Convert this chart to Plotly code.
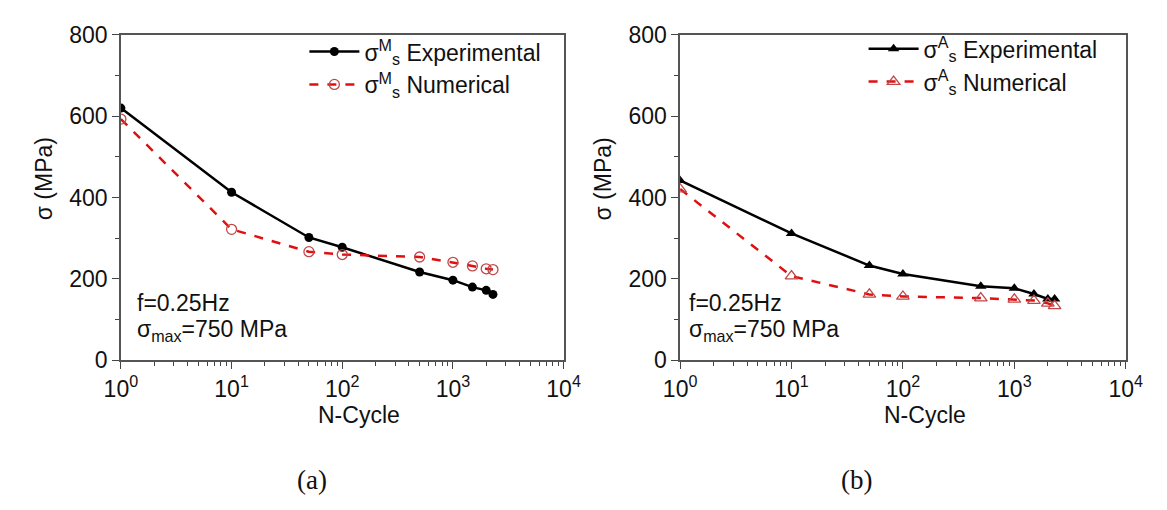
import plotly.graph_objects as go

# ---- data ----
cycles = [1, 10, 50, 100, 500, 1000, 1500, 2000, 2300]
ms_exp = [620, 413, 302, 278, 217, 197, 180, 172, 162]
ms_num = [593, 322, 267, 260, 254, 241, 232, 225, 223]
as_exp = [442, 312, 233, 212, 182, 177, 163, 151, 151]
as_num = [421, 207, 162, 157, 153, 150, 147, 140, 134]

x_tickvals = [1, 10, 100, 1000, 10000]
x_ticktext = ["10<sup>0</sup>", "10<sup>1</sup>", "10<sup>2</sup>", "10<sup>3</sup>", "10<sup>4</sup>"]
y_tickvals = [0, 200, 400, 600, 800]

W, H = 1167, 510
FONT = "Liberation Sans, Arial, sans-serif"
FS = 23
RED = "#e01010"
MRED = "#c04848"

def px_x(p):
    return p / W

def px_y(p):
    return 1 - p / H

fig = go.Figure()

fig.add_trace(go.Scatter(x=cycles, y=ms_exp, mode="lines+markers",
                         name="σ<sup>M</sup><sub>s</sub> Experimental", legendgroup="a1",
                         line=dict(color="black", width=2.5),
                         marker=dict(symbol="circle", size=9, color="black"),
                         xaxis="x", yaxis="y", legend="legend"))
fig.add_trace(go.Scatter(x=cycles, y=ms_num, mode="lines+markers",
                         name="σ<sup>M</sup><sub>s</sub> Numerical", legendgroup="a2",
                         line=dict(color=RED, width=2.5, dash="dash"),
                         marker=dict(symbol="circle-open", size=10, color=MRED, line=dict(width=1.3)),
                         xaxis="x", yaxis="y", legend="legend"))
fig.add_trace(go.Scatter(x=cycles, y=as_exp, mode="lines+markers",
                         name="σ<sup>A</sup><sub>s</sub> Experimental", legendgroup="b1",
                         line=dict(color="black", width=2.5),
                         marker=dict(symbol="triangle-up", size=10, color="black"),
                         xaxis="x2", yaxis="y2", legend="legend2"))
fig.add_trace(go.Scatter(x=cycles, y=as_num, mode="lines+markers",
                         name="σ<sup>A</sup><sub>s</sub> Numerical", legendgroup="b2",
                         line=dict(color=RED, width=2.5, dash="dash"),
                         marker=dict(symbol="triangle-up-open", size=11, color=MRED, line=dict(width=1.3)),
                         xaxis="x2", yaxis="y2", legend="legend2"))

minor_x = [m * 10 ** d for d in range(4) for m in range(2, 10)]

def xaxis(domain, anchor):
    return dict(type="log", range=[0, 4], domain=domain, anchor=anchor,
                tickvals=x_tickvals, ticktext=x_ticktext,
                ticks="outside", ticklen=7, tickwidth=1.3, tickcolor="#444",
                minor=dict(tickvals=minor_x, ticks="outside", ticklen=4, tickwidth=1, tickcolor="#444"),
                showline=True, linecolor="#555", linewidth=1.5, mirror=True,
                showgrid=False, zeroline=False,
                tickfont=dict(family=FONT, size=FS, color="#111"))

def yaxis(domain, anchor):
    return dict(range=[0, 800], domain=domain, anchor=anchor,
                tickvals=y_tickvals,
                ticks="outside", ticklen=7, tickwidth=1.3, tickcolor="#444",
                minor=dict(dtick=100, ticks="outside", ticklen=4, tickwidth=1, tickcolor="#444"),
                showline=True, linecolor="#555", linewidth=1.5, mirror=True,
                showgrid=False, zeroline=False,
                tickfont=dict(family=FONT, size=FS, color="#111"))

ydom = [px_y(366), px_y(23)]
fig.update_layout(
    width=W, height=H,
    margin=dict(l=0, r=0, t=0, b=0),
    paper_bgcolor="white", plot_bgcolor="white",
    font=dict(family=FONT, size=FS, color="#111"),
    xaxis=xaxis([px_x(107), px_x(563)], "y"),
    yaxis=yaxis(ydom, "x"),
    xaxis2=xaxis([px_x(683), px_x(1142)], "y2"),
    yaxis2=yaxis(ydom, "x2"),
    legend=dict(x=px_x(296), y=px_y(18), xanchor="left", yanchor="top",
                bgcolor="rgba(0,0,0,0)", itemwidth=50, tracegroupgap=0,
                font=dict(family=FONT, size=FS, color="#111")),
    legend2=dict(x=px_x(872), y=px_y(15), xanchor="left", yanchor="top",
                 bgcolor="rgba(0,0,0,0)", itemwidth=50, tracegroupgap=0,
                 font=dict(family=FONT, size=FS, color="#111")),
    showlegend=True,
)

ann = []
def text(x, y, s, size=FS, family=FONT, angle=0, xanchor="center"):
    ann.append(dict(x=px_x(x), y=px_y(y), xref="paper", yref="paper", text=s,
                    showarrow=False, textangle=angle, xanchor=xanchor, yanchor="middle",
                    font=dict(family=family, size=size, color="#111")))

text(28, 175, "σ (MPa)", size=FS, angle=-90)
text(604, 175, "σ (MPa)", size=FS, angle=-90)
text(352, 424, "N-Cycle", size=FS)
text(935, 424, "N-Cycle", size=FS)
text(122, 306, "f=0.25Hz", xanchor="left")
text(122, 335, "σ<sub>max</sub>=750 MPa", xanchor="left")
text(690, 306, "f=0.25Hz", xanchor="left")
text(690, 335, "σ<sub>max</sub>=750 MPa", xanchor="left")
text(304, 492, "(a)", size=27, family="Liberation Serif, Times New Roman, serif")
text(865, 492, "(b)", size=27, family="Liberation Serif, Times New Roman, serif")
fig.update_layout(annotations=ann)

fig.write_html("out.html")
